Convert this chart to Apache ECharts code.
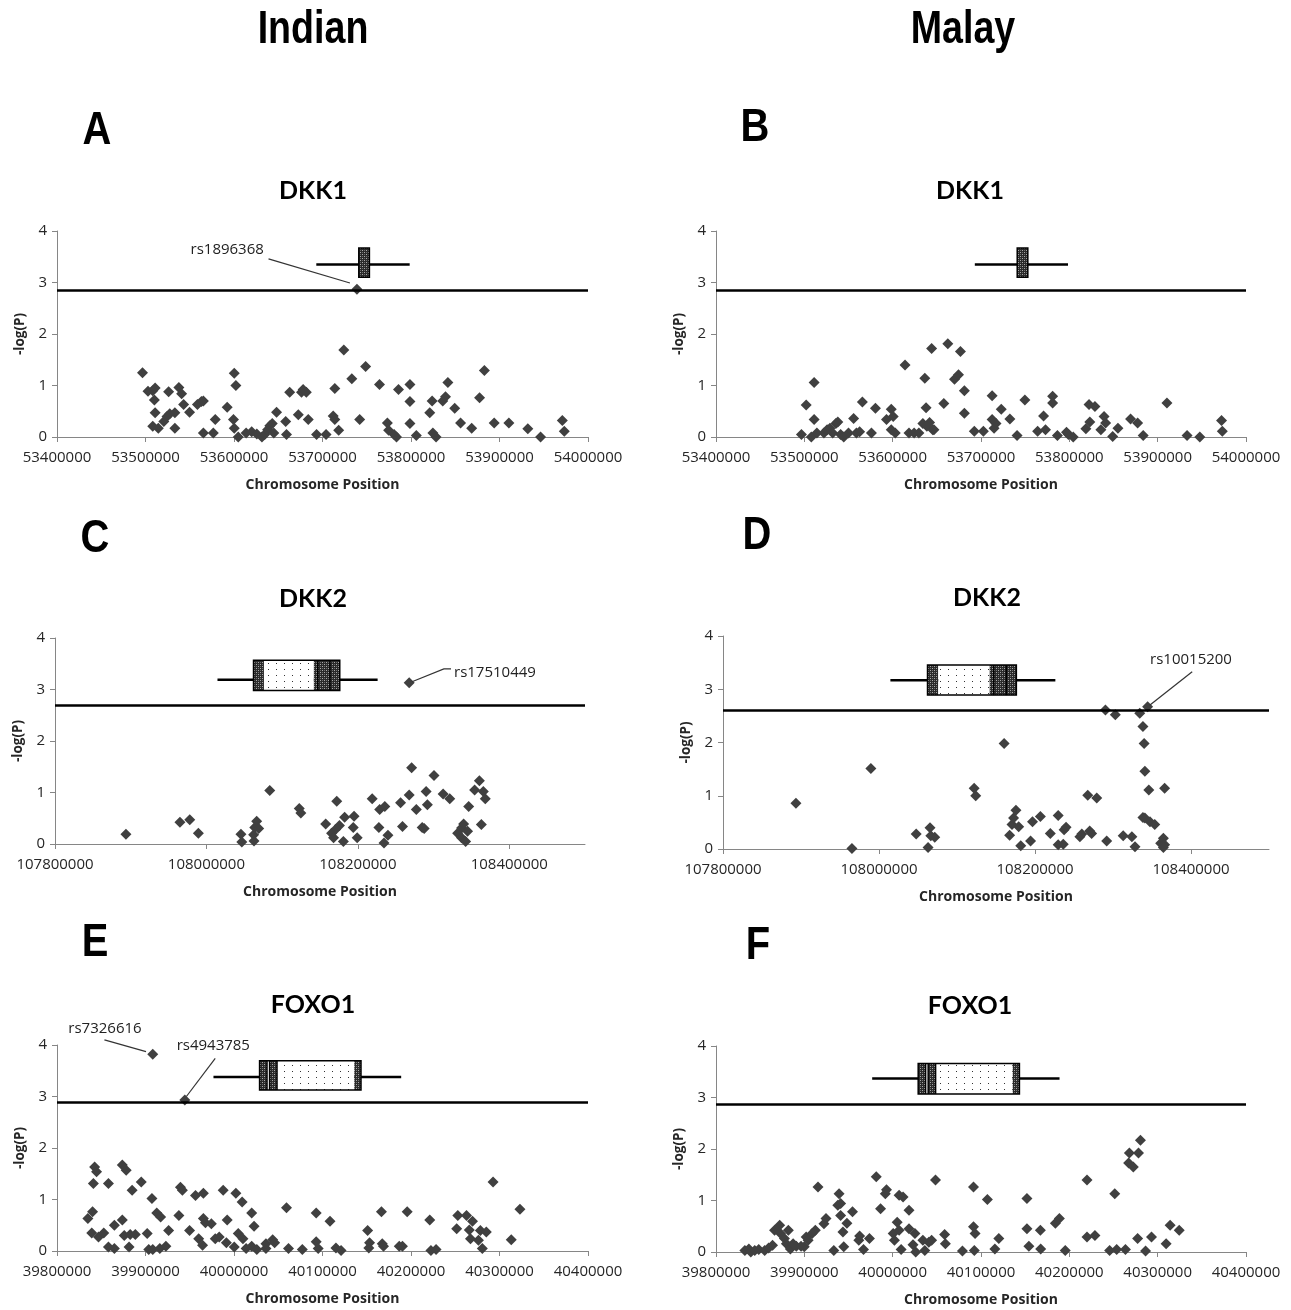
<!DOCTYPE html>
<html>
<head>
<meta charset="utf-8">
<title>DKK1 / DKK2 / FOXO1 association plots</title>
<script src="https://cdn.jsdelivr.net/npm/echarts@6.0.0/dist/echarts.min.js"></script>
<style>
  html, body { margin: 0; padding: 0; background: #fff; }
  #chart { width: 1291px; height: 1310px; }
</style>
</head>
<body>
<div id="chart"></div>
<script>
const indianDkk1 = [
  [53496600, 1.25], [53502800, 0.89], [53508200, 0.90], [53510900, 0.95], [53510000, 0.72],
  [53510900, 0.47], [53508200, 0.21], [53514500, 0.17], [53520700, 0.30], [53524300, 0.40],
  [53527400, 0.45], [53533200, 0.47], [53526100, 0.88], [53533200, 0.17], [53537700, 0.96],
  [53540800, 0.84], [53543100, 0.63], [53549800, 0.48], [53558700, 0.63], [53563200, 0.69],
  [53565400, 0.70], [53565400, 0.08], [53576600, 0.08], [53578800, 0.34], [53592300, 0.58],
  [53600300, 1.24], [53602100, 1.00], [53599400, 0.34], [53600300, 0.17], [53604800, 0.00],
  [53613700, 0.08], [53620000, 0.10], [53625800, 0.06], [53631600, 0.00], [53634700, 0.05],
  [53637900, 0.14], [53640500, 0.22], [53643200, 0.26], [53645000, 0.08], [53648100, 0.48],
  [53658400, 0.30], [53659300, 0.05], [53662900, 0.87], [53672700, 0.43], [53676300, 0.87],
  [53678100, 0.92], [53681700, 0.87], [53683900, 0.34], [53693300, 0.05], [53704000, 0.05],
  [53713900, 0.94], [53712100, 0.41], [53713900, 0.34], [53718300, 0.13], [53724100, 1.69],
  [53733100, 1.13], [53738900, 2.87], [53742000, 0.34], [53748700, 1.37], [53764400, 1.02],
  [53773300, 0.27], [53774700, 0.13], [53780900, 0.05], [53783600, 0.00], [53785900, 0.92],
  [53798800, 1.02], [53798800, 0.69], [53798800, 0.26], [53806000, 0.03], [53821200, 0.47],
  [53823900, 0.70], [53824700, 0.08], [53828300, 0.00], [53835900, 0.70], [53839000, 0.78],
  [53841700, 1.06], [53849400, 0.56], [53856000, 0.27], [53868600, 0.17], [53877500, 0.76],
  [53882900, 1.29], [53894000, 0.27], [53910600, 0.27], [53932000, 0.16], [53946400, 0.00],
  [53971000, 0.32], [53973200, 0.11]
];

const malayDkk1 = [
  [53496700, 0.05], [53502100, 0.62], [53507900, 0.00], [53511100, 1.06], [53511100, 0.34],
  [53514200, 0.08], [53522200, 0.08], [53525800, 0.14], [53529000, 0.17], [53532100, 0.08],
  [53535700, 0.26], [53537900, 0.29], [53541100, 0.05], [53544600, 0.00], [53550000, 0.08],
  [53555800, 0.36], [53559000, 0.08], [53562600, 0.10], [53565700, 0.68], [53576000, 0.08],
  [53580500, 0.56], [53593000, 0.34], [53598400, 0.54], [53600600, 0.40], [53598400, 0.14],
  [53602900, 0.08], [53614000, 1.40], [53618500, 0.08], [53624300, 0.08], [53629700, 0.08],
  [53634200, 0.26], [53636400, 1.14], [53637800, 0.57], [53638700, 0.21], [53641800, 0.28],
  [53644100, 1.72], [53645400, 0.14], [53646700, 0.14], [53657900, 0.65], [53662400, 1.81],
  [53670000, 1.12], [53674500, 1.21], [53676700, 1.66], [53681200, 0.90], [53681200, 0.46],
  [53692400, 0.11], [53702700, 0.11], [53712600, 0.80], [53712600, 0.34], [53714800, 0.17],
  [53717000, 0.26], [53722900, 0.54], [53732700, 0.35], [53740800, 0.03], [53749700, 0.72],
  [53764100, 0.11], [53770800, 0.41], [53773000, 0.14], [53781100, 0.79], [53781100, 0.66],
  [53786500, 0.03], [53796800, 0.09], [53799000, 0.05], [53804400, 0.00], [53818700, 0.16],
  [53822300, 0.63], [53823200, 0.29], [53829000, 0.59], [53835700, 0.14], [53839300, 0.40],
  [53841100, 0.27], [53849100, 0.01], [53855000, 0.17], [53869300, 0.35], [53877300, 0.27],
  [53883600, 0.03], [53910500, 0.66], [53933300, 0.03], [53947700, 0.00], [53972300, 0.32],
  [53973200, 0.11]
];

const indianDkk2 = [
  [107893700, 0.19], [107965000, 0.42], [107978000, 0.47], [107989400, 0.21], [108045600, 0.19],
  [108046700, 0.04], [108062300, 0.18], [108062800, 0.06], [108063800, 0.32], [108066400, 0.44],
  [108069000, 0.30], [108083600, 1.04], [108122600, 0.69], [108124700, 0.60], [108157500, 0.39],
  [108165300, 0.21], [108167900, 0.12], [108170500, 0.28], [108172100, 0.83], [108175700, 0.36],
  [108180900, 0.05], [108182500, 0.52], [108193900, 0.32], [108195000, 0.54], [108199100, 0.12],
  [108218900, 0.88], [108227800, 0.32], [108228800, 0.67], [108235600, 0.73], [108234500, 0.02],
  [108239700, 0.17], [108256400, 0.80], [108259000, 0.34], [108267800, 0.95], [108267800, 3.13],
  [108271000, 1.48], [108277200, 0.67], [108285000, 0.32], [108287600, 0.30], [108290200, 1.02],
  [108291800, 0.76], [108300600, 1.33], [108312600, 0.97], [108321400, 0.88], [108331800, 0.21],
  [108337000, 0.31], [108339700, 0.39], [108337000, 0.12], [108342300, 0.05], [108344900, 0.25],
  [108346400, 0.73], [108354200, 1.05], [108360500, 1.23], [108363100, 0.38], [108365700, 1.02],
  [108368300, 0.88]
];

const malayDkk2 = [
  [107893500, 0.86], [107965300, 0.01], [107989600, 1.51], [108047700, 0.28], [108062900, 0.03],
  [108065400, 0.40], [108066400, 0.25], [108071500, 0.22], [108122000, 1.14], [108124000, 1.00],
  [108160400, 1.98], [108167500, 0.26], [108170500, 0.46], [108172500, 0.58], [108175600, 0.73],
  [108179100, 0.42], [108181700, 0.06], [108194300, 0.15], [108196800, 0.51], [108206900, 0.61],
  [108219600, 0.29], [108229700, 0.63], [108229700, 0.08], [108236200, 0.09], [108237300, 0.36],
  [108239800, 0.41], [108257500, 0.23], [108260000, 0.28], [108267600, 1.01], [108270100, 0.34],
  [108272600, 0.29], [108279200, 0.96], [108290300, 2.61], [108291900, 0.15], [108303000, 2.52],
  [108313100, 0.25], [108324200, 0.23], [108328200, 0.04], [108334300, 2.55], [108338400, 2.30],
  [108339900, 1.98], [108340900, 1.46], [108344400, 2.67], [108345900, 1.11], [108338400, 0.59],
  [108340900, 0.58], [108347400, 0.51], [108353500, 0.46], [108361100, 0.11], [108364600, 0.20],
  [108366200, 1.14], [108366200, 0.08], [108364600, 0.03]
];

const indianFoxo1 = [
  [39834900, 0.63], [39840200, 0.76], [39839300, 0.35], [39842500, 1.63], [39844700, 1.54],
  [39841100, 1.31], [39846900, 0.27], [39852800, 0.35], [39858100, 0.08], [39858100, 1.31],
  [39864800, 0.50], [39864800, 0.05], [39873800, 0.60], [39873800, 1.67], [39878200, 1.57],
  [39876000, 0.30], [39881400, 0.08], [39884900, 1.18], [39882700, 0.32], [39888500, 0.32],
  [39895200, 1.34], [39901900, 0.34], [39903700, 0.03], [39907300, 1.02], [39908200, 3.82],
  [39908200, 0.03], [39912700, 0.74], [39917100, 0.66], [39916200, 0.05], [39923000, 0.09],
  [39926100, 0.40], [39937700, 0.69], [39939500, 1.24], [39941700, 1.18], [39944400, 2.93],
  [39949800, 0.40], [39956500, 1.08], [39960100, 0.24], [39964500, 0.11], [39965400, 0.63],
  [39965400, 1.12], [39967700, 0.55], [39974400, 0.53], [39978800, 0.24], [39983300, 0.27],
  [39987800, 1.18], [39992300, 0.60], [39991400, 0.16], [40002100, 1.12], [40000300, 0.08],
  [40004800, 0.34], [40009200, 0.95], [40010100, 0.24], [40013700, 0.05], [40020000, 0.74],
  [40022700, 0.48], [40020000, 0.09], [40025800, 0.03], [40036100, 0.05], [40036100, 0.14],
  [40043700, 0.22], [40045900, 0.16], [40059300, 0.84], [40061600, 0.05], [40077200, 0.03],
  [40092900, 0.74], [40092900, 0.18], [40095100, 0.05], [40108500, 0.58], [40115200, 0.06],
  [40121000, 0.01], [40151000, 0.40], [40152300, 0.06], [40153200, 0.16], [40166600, 0.76],
  [40167500, 0.14], [40168900, 0.09], [40186700, 0.09], [40190300, 0.09], [40195700, 0.76],
  [40221200, 0.60], [40222500, 0.01], [40228300, 0.03], [40251600, 0.43], [40252900, 0.69],
  [40262700, 0.69], [40265900, 0.41], [40267200, 0.24], [40269500, 0.58], [40276200, 0.21],
  [40278400, 0.40], [40280600, 0.05], [40285100, 0.37], [40292700, 1.34], [40313300, 0.22],
  [40323100, 0.81]
];

const malayFoxo1 = [
  [39832700, 0.03], [39837200, 0.06], [39839400, 0.00], [39843900, 0.03], [39848400, 0.05],
  [39855100, 0.03], [39859600, 0.08], [39864000, 0.13], [39866300, 0.42], [39872100, 0.52],
  [39873000, 0.36], [39877500, 0.26], [39879700, 0.16], [39881900, 0.42], [39884200, 0.06],
  [39887300, 0.16], [39890900, 0.11], [39896300, 0.11], [39899900, 0.10], [39902100, 0.29],
  [39904300, 0.23], [39908800, 0.36], [39912400, 0.42], [39915500, 1.26], [39922200, 0.55],
  [39924500, 0.65], [39933400, 0.03], [39937900, 0.91], [39939300, 1.13], [39941100, 0.94],
  [39941100, 0.71], [39943700, 0.39], [39944600, 0.10], [39948200, 0.56], [39954500, 0.78],
  [39961700, 0.23], [39962600, 0.31], [39967000, 0.05], [39973700, 0.26], [39981400, 1.46],
  [39986300, 0.84], [39991700, 1.13], [39993000, 1.21], [40000600, 0.36], [40002000, 0.23],
  [40005100, 0.58], [40007300, 0.42], [40007300, 1.10], [40011800, 1.07], [40009600, 0.05],
  [40018500, 0.81], [40018500, 0.45], [40025200, 0.36], [40023000, 0.14], [40026100, 0.00],
  [40034200, 0.23], [40036400, 0.03], [40040900, 0.19], [40044100, 0.23], [40048500, 1.40],
  [40058800, 0.34], [40059700, 0.16], [40079000, 0.02], [40091500, 1.26], [40091500, 0.49],
  [40093300, 0.36], [40092400, 0.03], [40107200, 1.02], [40115700, 0.06], [40120200, 0.26],
  [40152000, 1.04], [40152000, 0.45], [40154200, 0.11], [40167200, 0.42], [40167600, 0.06],
  [40184200, 0.56], [40188700, 0.65], [40195400, 0.03], [40220000, 1.40], [40220000, 0.29],
  [40229000, 0.32], [40245600, 0.03], [40251400, 1.13], [40253600, 0.05], [40263500, 0.05],
  [40267100, 1.73], [40268000, 1.92], [40272400, 1.65], [40278300, 1.92], [40280500, 2.17],
  [40277300, 0.26], [40286300, 0.02], [40293000, 0.29], [40309600, 0.16], [40314100, 0.52],
  [40324400, 0.42]
];

const dkk1Line = [53693000, 53798500];
const dkk1Exons = [[53741000, 53753000, "hatch"]];
const dkk1Dividers = [];

const dkk2Line = [108014600, 108226100];
const dkk2Exons = [
  [108062200, 108076000, "hatch"],
  [108076000, 108141900, "dot"],
  [108141900, 108176100, "hatch"]
];
const dkk2Dividers = [108147100, 108163200];

const foxo1Line = [39976800, 40188900];
const foxo1Exons = [
  [40028900, 40037300, "hatch"],
  [40037300, 40040200, "blank"],
  [40040200, 40048600, "hatch"],
  [40048600, 40135900, "dot"],
  [40135900, 40143500, "hatch"]
];
const foxo1Dividers = [40037300, 40040200, 40048600];

const indianDkk1Notes = [
  { name: "rs1896368", at: [53592300, 3.63], align: "center", path: [[53639000, 3.46], [53731000, 2.99]] }
];
const indianDkk2Notes = [
  { name: "rs17510449", at: [108327000, 3.33], align: "left", path: [[108271500, 3.15], [108313600, 3.40], [108323000, 3.40]] }
];
const malayDkk2Notes = [
  { name: "rs10015200", at: [108400000, 3.55], align: "center", path: [[108401500, 3.33], [108347000, 2.70]] }
];
const indianFoxo1Notes = [
  { name: "rs7326616", at: [39854200, 4.31], align: "center", path: [[39853600, 4.10], [39900600, 3.87]] },
  { name: "rs4943785", at: [39976600, 3.98], align: "center", path: [[39978800, 3.74], [39946200, 3.00]] }
];

const yTicks = [0, 1, 2, 3, 4];

function makeCanvas(w, h, draw) {
  const canvas = document.createElement("canvas");
  canvas.width = w;
  canvas.height = h;
  draw(canvas.getContext("2d"));
  return canvas;
}

const fills = {
  hatch: {
    image: makeCanvas(4, 4, (ctx) => {
      ctx.fillStyle = "#2a2a2a";
      ctx.fillRect(0, 0, 4, 4);
      ctx.fillStyle = "#a8a8a8";
      [[0, 0], [2, 2]].forEach(([x, y]) => ctx.fillRect(x, y, 1, 1));
      ctx.fillStyle = "#6e6e6e";
      [[0, 2], [2, 0]].forEach(([x, y]) => ctx.fillRect(x, y, 1, 1));
    }),
    repeat: "repeat",
  },
  dot: {
    image: makeCanvas(8, 6, (ctx) => {
      ctx.fillStyle = "#ffffff";
      ctx.fillRect(0, 0, 8, 6);
      ctx.fillStyle = "#333333";
      ctx.fillRect(4, 3, 1, 1);
    }),
    repeat: "repeat",
  },
  blank: "#ffffff",
};

const genes = {
  dkk1: { line: dkk1Line, exons: dkk1Exons, dividers: dkk1Dividers },
  dkk2: { line: dkk2Line, exons: dkk2Exons, dividers: dkk2Dividers },
  foxo1: { line: foxo1Line, exons: foxo1Exons, dividers: foxo1Dividers },
};

const panels = [
  { points: indianDkk1, range: [53400000, 54000000, 100000], cut: 2.84, gene: "dkk1", place: [3.35, 3.67, 3.10], notes: indianDkk1Notes, box: [57, 231, 531, 206] },
  { points: malayDkk1, range: [53400000, 54000000, 100000], cut: 2.84, gene: "dkk1", place: [3.35, 3.67, 3.10], notes: [], box: [716, 231, 530, 206] },
  { points: indianDkk2, range: [107800000, 108500000, 200000], cut: 2.69, gene: "dkk2", place: [3.19, 3.57, 2.98], notes: indianDkk2Notes, box: [55, 638, 530, 206] },
  { points: malayDkk2, range: [107800000, 108500000, 200000], cut: 2.61, gene: "dkk2", place: [3.17, 3.455, 2.89], notes: malayDkk2Notes, box: [723, 636, 546, 213] },
  { points: indianFoxo1, range: [39800000, 40400000, 100000], cut: 2.885, gene: "foxo1", place: [3.38, 3.695, 3.125], notes: indianFoxo1Notes, box: [57, 1045, 531, 206] },
  { points: malayFoxo1, range: [39800000, 40400000, 100000], cut: 2.87, gene: "foxo1", place: [3.37, 3.66, 3.07], notes: [], box: [716, 1046, 530, 206] },
];

const bigFont = 'bold 47px "Liberation Sans"';
const titleFont = 'bold 25px Lato';
const labels = [
  { text: "Indian", x: 313, y: 30, font: bigFont, squeeze: 0.8 },
  { text: "Malay", x: 963, y: 30, font: bigFont, squeeze: 0.8 },
  { text: "A", x: 97, y: 131, font: bigFont, squeeze: 0.85 },
  { text: "B", x: 755, y: 128, font: bigFont, squeeze: 0.85 },
  { text: "C", x: 95, y: 539, font: bigFont, squeeze: 0.85 },
  { text: "D", x: 757, y: 536, font: bigFont, squeeze: 0.85 },
  { text: "E", x: 95, y: 943, font: bigFont, squeeze: 0.85 },
  { text: "F", x: 758, y: 946, font: bigFont, squeeze: 0.85 },
  { text: "DKK1", x: 313, y: 191, font: titleFont, squeeze: 1 },
  { text: "DKK1", x: 970, y: 191, font: titleFont, squeeze: 1 },
  { text: "DKK2", x: 313, y: 599, font: titleFont, squeeze: 1 },
  { text: "DKK2", x: 987, y: 598, font: titleFont, squeeze: 1 },
  { text: "FOXO1", x: 313, y: 1005, font: titleFont, squeeze: 1 },
  { text: "FOXO1", x: 970, y: 1006, font: titleFont, squeeze: 1 },
];

function geneRenderer(gene, place) {
  const [lineY, topY, bottomY] = place;
  const start = gene.exons[0][0];
  const end = gene.exons[gene.exons.length - 1][1];
  return (params, api) => {
    const a = api.coord([gene.line[0], lineY]);
    const b = api.coord([gene.line[1], lineY]);
    const children = [
      { type: "line", shape: { x1: a[0], y1: a[1], x2: b[0], y2: b[1] }, style: { stroke: "#000", lineWidth: 2.5 } },
    ];
    gene.exons.forEach(([s, e, kind]) => {
      const p = api.coord([s, topY]);
      const q = api.coord([e, bottomY]);
      children.push({
        type: "rect",
        shape: { x: p[0], y: p[1], width: q[0] - p[0], height: q[1] - p[1] },
        style: { fill: fills[kind], stroke: null },
      });
    });
    gene.dividers.forEach((x) => {
      const p = api.coord([x, topY]);
      const q = api.coord([x, bottomY]);
      children.push({ type: "line", shape: { x1: p[0], y1: p[1], x2: q[0], y2: q[1] }, style: { stroke: "#000", lineWidth: 1.5 } });
    });
    const p = api.coord([start, topY]);
    const q = api.coord([end, bottomY]);
    children.push({
      type: "rect",
      shape: { x: p[0], y: p[1], width: q[0] - p[0], height: q[1] - p[1] },
      style: { fill: null, stroke: "#000", lineWidth: 1.5 },
    });
    return { type: "group", children };
  };
}

function noteRenderer(notes) {
  return (params, api) => {
    const note = notes[params.dataIndex];
    const at = api.coord(note.at);
    return {
      type: "group",
      children: [
        { type: "polyline", shape: { points: note.path.map((p) => api.coord(p)) }, style: { stroke: "#333", lineWidth: 1.2, fill: null } },
        {
          type: "text",
          x: at[0],
          y: at[1],
          style: { text: note.name, fill: "#222", fontSize: 15, fontFamily: "Open Sans", align: note.align, verticalAlign: "middle" },
        },
      ],
    };
  };
}

function buildOption() {
  const grid = [];
  const xAxis = [];
  const yAxis = [];
  const series = [];
  panels.forEach((panel, i) => {
    const [left, top, width, height] = panel.box;
    const [min, max, interval] = panel.range;
    grid.push({ left, top, width, height, containLabel: false, outerBoundsMode: "none" });
    xAxis.push({
      type: "value",
      gridIndex: i,
      min,
      max,
      interval,
      name: "Chromosome Position",
      nameLocation: "middle",
      nameGap: 41,
      nameTextStyle: { fontFamily: "Open Sans", fontWeight: "bold", fontSize: 14, color: "#262626" },
      axisLine: { show: true, onZero: false, lineStyle: { color: "#868686", width: 1 } },
      axisTick: { show: true, length: 5, lineStyle: { color: "#868686" } },
      axisLabel: {
        color: "#262626",
        fontFamily: "Open Sans",
        fontSize: 15,
        margin: 13,
        formatter: (value) => String(value),
        showMinLabel: true,
        showMaxLabel: (max - min) % interval === 0,
      },
      splitLine: { show: false },
    });
    yAxis.push({
      type: "value",
      gridIndex: i,
      min: yTicks[0],
      max: yTicks[yTicks.length - 1],
      interval: 1,
      name: "-log(P)",
      nameLocation: "middle",
      nameRotate: 90,
      nameGap: 30,
      nameTextStyle: { fontFamily: "Open Sans", fontWeight: "bold", fontSize: 13.5, color: "#262626" },
      axisLine: { show: true, lineStyle: { color: "#868686", width: 1 } },
      axisTick: { show: true, length: 5, lineStyle: { color: "#868686" } },
      axisLabel: { color: "#262626", fontFamily: "Open Sans", fontSize: 15, margin: 10 },
      splitLine: { show: false },
    });
    series.push({
      type: "scatter",
      xAxisIndex: i,
      yAxisIndex: i,
      data: panel.points,
      symbol: "diamond",
      symbolSize: 11,
      itemStyle: { color: "#404040", opacity: 1 },
      z: 4,
      markLine: {
        silent: true,
        symbol: ["none", "none"],
        label: { show: false },
        lineStyle: { color: "#000", width: 2.5, type: "solid" },
        data: [{ yAxis: panel.cut }],
      },
    });
    series.push({
      type: "custom",
      xAxisIndex: i,
      yAxisIndex: i,
      silent: true,
      z: 3,
      data: [[genes[panel.gene].line[0], panel.place[0]]],
      renderItem: geneRenderer(genes[panel.gene], panel.place),
    });
    if (panel.notes.length) {
      series.push({
        type: "custom",
        xAxisIndex: i,
        yAxisIndex: i,
        silent: true,
        z: 5,
        clip: false,
        data: panel.notes.map((n) => n.at),
        renderItem: noteRenderer(panel.notes),
      });
    }
  });
  return {
    backgroundColor: "#fff",
    animation: false,
    grid,
    xAxis,
    yAxis,
    series,
    graphic: {
      elements: labels.map((l) => ({
        type: "text",
        x: l.x,
        y: l.y,
        scaleX: l.squeeze,
        silent: true,
        style: { text: l.text, font: l.font, fill: "#000", align: "center", verticalAlign: "middle", textAlign: "center", textVerticalAlign: "middle" },
      })),
    },
  };
}

const chart = echarts.init(document.getElementById("chart"), null, { renderer: "canvas" });
chart.setOption(buildOption());
</script>
</body>
</html>
